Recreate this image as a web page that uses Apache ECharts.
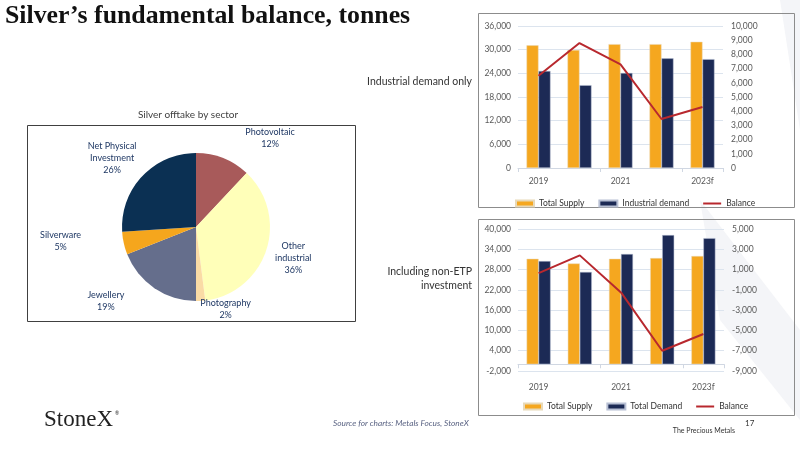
<!DOCTYPE html>
<html><head><meta charset="utf-8">
<script src="https://cdn.jsdelivr.net/npm/echarts@6/dist/echarts.min.js"></script>
<style>html,body{margin:0;padding:0;background:#fff}#c{width:800px;height:450px}</style>
</head><body><div id="c"></div>
<script>
// ---- data ----
const years = ['2019', '2020', '2021', '2022', '2023f'];
const supplyTop = [31100, 29900, 31400, 31400, 32000];
const industrialDemand = [24600, 21000, 24100, 27800, 27600];
const balanceTop = [6500, 8800, 7300, 3450, 4300];
const supplyBottom = [31200, 29800, 31200, 31400, 32000];
const totalDemand = [30500, 27300, 32600, 38200, 37300];
const balanceBottom = [650, 2400, -1250, -7000, -5350];
const sectors = ['Photovoltaic', 'Other\nindustrial', 'Photography', 'Jewellery', 'Silverware', 'Net Physical\nInvestment'];
const sectorShares = [12, 36, 2, 19, 5, 26];

// ---- styles ----
const ORANGE = '#F5A71F', NAVY = '#1C2A55', RED = '#B8282E';
const sliceColors = ['#A85A5A', '#FFFFB9', '#FADBA5', '#656E8C', '#F5A61D', '#0B3053'];
const sliceLabelLen = [22, 6, 10, 16, 14, 20];
const sliceLabelLen2 = [12, 3, 0, 16, 24, 0];
const labelNudgeX = [-3, -5, -6, 0, 0, 14];
const labelNudgeY = [0, 6, -2, 0, -5, -5];
const FONT = 'Lato';
const tickLbl = { color: '#595959', fontSize: 8.5, fontFamily: FONT };
const split = { show: true, lineStyle: { color: '#DCE4EE', width: 1 } };
const LINE_ICON = 'path://M0,0 L18,0 L18,2 L0,2 Z';

const chart = echarts.init(document.getElementById('c'), null, { renderer: 'canvas' });

function fmt(v) { return v.toLocaleString('en-US'); }

const option = {
  backgroundColor: '#ffffff',
  animation: false,
  graphic: [
    // faint background shapes
    { type: 'polygon', silent: true, z: -10, shape: { points: [[780, 0], [800, 0], [800, 130]] }, style: { fill: '#F4F5F8' } },
    { type: 'polygon', silent: true, z: -10, shape: { points: [[700, 200], [800, 330], [800, 420], [720, 320]] }, style: { fill: '#F4F5F8' } },
    // frames
    { type: 'rect', silent: true, z: -1, shape: { x: 478.5, y: 13.5, width: 316, height: 194 }, style: { fill: 'none', stroke: '#8C8C8C', lineWidth: 1 } },
    { type: 'rect', silent: true, z: -1, shape: { x: 478.5, y: 219.5, width: 316, height: 196 }, style: { fill: 'none', stroke: '#8C8C8C', lineWidth: 1 } },
    { type: 'rect', silent: true, z: -1, shape: { x: 27.5, y: 125.5, width: 328, height: 196 }, style: { fill: 'none', stroke: '#404040', lineWidth: 1 } },
    // texts
    { type: 'text', left: 5, top: 3, style: { text: 'Silver\u2019s fundamental balance, tonnes', font: 'bold 25.8px "Liberation Serif"', fill: '#111' } },
    { type: 'text', x: 472, y: 82, style: { text: 'Industrial demand only', font: '10.5px ' + FONT, fill: '#333', align: 'right', verticalAlign: 'middle' } },
    { type: 'text', x: 472, y: 279, style: { text: 'Including non-ETP\ninvestment', font: '10.5px ' + FONT, fill: '#333', align: 'right', verticalAlign: 'middle', lineHeight: 14 } },
    { type: 'text', x: 188, y: 115, style: { text: 'Silver offtake by sector', font: '10px ' + FONT, fill: '#404040', align: 'center', verticalAlign: 'middle' } },
    { type: 'text', x: 44, y: 420, style: { text: 'StoneX', font: '23px "Liberation Serif"', fill: '#222', verticalAlign: 'middle' } },
    { type: 'text', x: 115, y: 413, style: { text: '\u00AE', font: '5px ' + FONT, fill: '#222', verticalAlign: 'middle' } },
    { type: 'text', x: 333, y: 423, style: { text: 'Source for charts: Metals Focus, StoneX', font: 'italic 8.3px ' + FONT, fill: '#5A6383', verticalAlign: 'middle' } },
    { type: 'text', x: 735, y: 431, style: { text: 'The Precious Metals', font: '7px ' + FONT, fill: '#333', align: 'right', verticalAlign: 'middle' } },
    { type: 'text', x: 745, y: 423, style: { text: '17', font: '8px ' + FONT, fill: '#333', verticalAlign: 'middle' } }
  ],
  grid: [
    { left: 518, top: 26, width: 205, height: 142 },
    { left: 518, top: 229, width: 206, height: 142 }
  ],
  legend: [
    { data: [{ name: 'Total Supply', icon: 'rect' }, { name: 'Industrial demand', icon: 'rect' }, { name: 'Balance', icon: LINE_ICON }],
      left: 510, top: 194, itemWidth: 18, itemHeight: 6, itemGap: 14, textStyle: { fontSize: 8.5, color: '#333', fontFamily: FONT } },
    { data: [{ name: 'Total Supply', icon: 'rect' }, { name: 'Total Demand', icon: 'rect' }, { name: 'Balance', icon: LINE_ICON }],
      left: 518, top: 397, itemWidth: 18, itemHeight: 6, itemGap: 14, textStyle: { fontSize: 8.5, color: '#333', fontFamily: FONT } }
  ],
  xAxis: [
    { type: 'category', gridIndex: 0, data: years, axisLine: { lineStyle: { color: '#D0D7E2' } },
      axisTick: { show: true, length: 4, lineStyle: { color: '#D0D7E2' } },
      axisLabel: Object.assign({ interval: 1, margin: 9 }, tickLbl) },
    { type: 'category', gridIndex: 1, data: years, axisLine: { onZero: true, lineStyle: { color: '#D0D7E2' } },
      axisTick: { show: true, length: 4, lineStyle: { color: '#D0D7E2' } },
      axisLabel: Object.assign({ interval: 1, margin: 12 }, tickLbl) }
  ],
  yAxis: [
    { type: 'value', gridIndex: 0, min: 0, max: 36000, interval: 6000, axisLine: { show: false }, axisTick: { show: false },
      splitLine: split, axisLabel: Object.assign({ formatter: fmt, margin: 7 }, tickLbl) },
    { type: 'value', gridIndex: 0, position: 'right', min: 0, max: 10000, interval: 1000, axisLine: { show: false }, axisTick: { show: false },
      splitLine: { show: false }, axisLabel: Object.assign({ formatter: fmt, margin: 8 }, tickLbl) },
    { type: 'value', gridIndex: 1, min: -2000, max: 40000, interval: 6000, axisLine: { show: false }, axisTick: { show: false },
      splitLine: split, axisLabel: Object.assign({ formatter: fmt, margin: 7 }, tickLbl) },
    { type: 'value', gridIndex: 1, position: 'right', min: -9000, max: 5000, interval: 2000, axisLine: { show: false }, axisTick: { show: false },
      splitLine: { show: false }, axisLabel: Object.assign({ formatter: fmt, margin: 8 }, tickLbl) }
  ],
  series: [
    { name: 'Total Supply', type: 'bar', xAxisIndex: 0, yAxisIndex: 0, data: supplyTop, barWidth: 12, barGap: '0%',
      itemStyle: { color: ORANGE, borderColor: '#E8D9B8', borderWidth: 0.5 } },
    { name: 'Industrial demand', type: 'bar', xAxisIndex: 0, yAxisIndex: 0, data: industrialDemand, barWidth: 12, barGap: '0%',
      itemStyle: { color: NAVY, borderColor: '#B8C0D4', borderWidth: 0.5 } },
    { name: 'Balance', type: 'line', xAxisIndex: 0, yAxisIndex: 1, data: balanceTop, symbol: 'none', z: 5,
      lineStyle: { color: RED, width: 2 }, itemStyle: { color: RED } },
    { name: 'Total Supply', type: 'bar', xAxisIndex: 1, yAxisIndex: 2, data: supplyBottom, barWidth: 12, barGap: '0%',
      itemStyle: { color: ORANGE, borderColor: '#E8D9B8', borderWidth: 0.5 } },
    { name: 'Total Demand', type: 'bar', xAxisIndex: 1, yAxisIndex: 2, data: totalDemand, barWidth: 12, barGap: '0%',
      itemStyle: { color: NAVY, borderColor: '#B8C0D4', borderWidth: 0.5 } },
    { name: 'Balance', type: 'line', xAxisIndex: 1, yAxisIndex: 3, data: balanceBottom, symbol: 'none', z: 5,
      lineStyle: { color: RED, width: 2 }, itemStyle: { color: RED } },
    { name: 'Silver offtake by sector', type: 'pie', center: [196, 227], radius: 74, startAngle: 90, clockwise: true,
      label: { show: true, position: 'outside', formatter: '{b}\n{c}%', color: '#1F3864', fontSize: 9, fontFamily: FONT, lineHeight: 12 },
      labelLine: { show: false, length: 10, length2: 0 },
      labelLayout: function (p) {
        const r = p.labelRect, i = p.dataIndex;
        return { x: r.x + r.width / 2 + labelNudgeX[i], y: r.y + r.height / 2 + labelNudgeY[i], align: 'center', verticalAlign: 'middle' };
      },
      emphasis: { disabled: true },
      data: sectors.map((s, i) => ({ name: s, value: sectorShares[i], itemStyle: { color: sliceColors[i] },
        labelLine: { show: false, length: sliceLabelLen[i], length2: sliceLabelLen2[i] } }))
    }
  ]
};
chart.setOption(option);
</script></body></html>
